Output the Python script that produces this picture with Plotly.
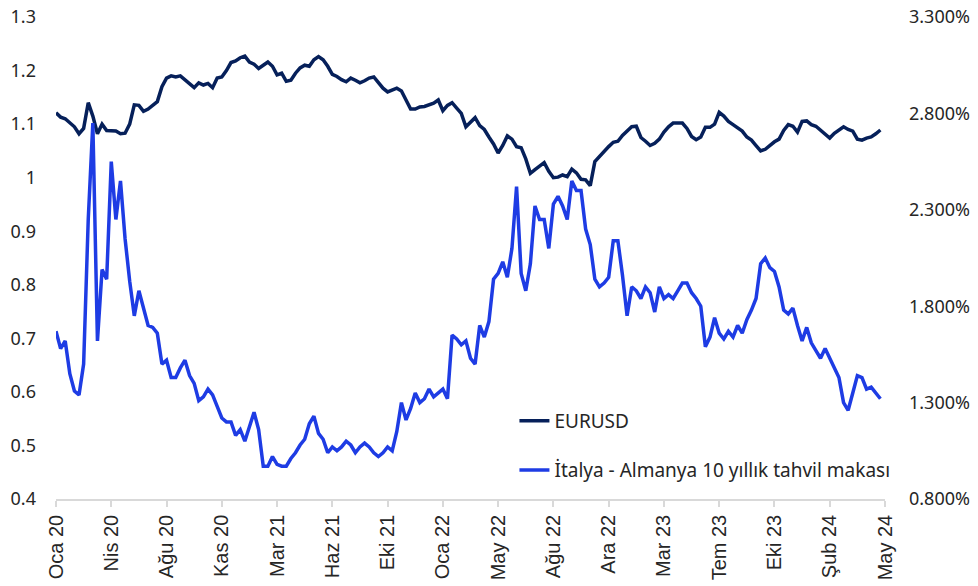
import plotly.graph_objects as go

eurusd = [
    1.121, 1.113, 1.110, 1.103, 1.095, 1.082, 1.092, 1.140, 1.115, 1.082, 1.100, 1.088,
    1.087, 1.087, 1.082, 1.083, 1.100, 1.136, 1.135, 1.124, 1.128, 1.135, 1.142, 1.170,
    1.186, 1.190, 1.188, 1.190, 1.183, 1.176, 1.168, 1.177, 1.173, 1.176, 1.168, 1.186,
    1.188, 1.200, 1.215, 1.218, 1.224, 1.227, 1.216, 1.212, 1.204, 1.210, 1.216, 1.208,
    1.192, 1.195, 1.180, 1.182, 1.195, 1.205, 1.210, 1.208, 1.220, 1.226, 1.220, 1.208,
    1.193, 1.189, 1.183, 1.179, 1.186, 1.182, 1.177, 1.181, 1.186, 1.188, 1.178, 1.167,
    1.160, 1.163, 1.167, 1.162, 1.145, 1.128, 1.128, 1.132, 1.133, 1.136, 1.139, 1.145,
    1.125, 1.135, 1.140, 1.130, 1.120, 1.095, 1.104, 1.112, 1.097, 1.090, 1.076, 1.063,
    1.046, 1.060, 1.078, 1.072, 1.058, 1.056, 1.035, 1.008, 1.015, 1.022, 1.028, 1.012,
    1.000, 1.001, 1.005, 1.002, 1.016, 1.009, 0.997, 0.996, 0.985, 1.030, 1.040, 1.050,
    1.058, 1.066, 1.068, 1.079, 1.088, 1.095, 1.096, 1.075, 1.068, 1.060, 1.064, 1.072,
    1.085, 1.095, 1.102, 1.102, 1.102, 1.092, 1.077, 1.071, 1.076, 1.094, 1.094, 1.100,
    1.122, 1.115, 1.105, 1.099, 1.093, 1.087, 1.076, 1.070, 1.060, 1.050, 1.053, 1.061,
    1.067, 1.072, 1.088, 1.099, 1.096, 1.085, 1.105, 1.106, 1.099, 1.096, 1.089, 1.083,
    1.074, 1.083, 1.089, 1.095, 1.090, 1.087, 1.072, 1.070, 1.074, 1.076, 1.082, 1.089,
]

spread = [
    1.67, 1.58, 1.62, 1.45, 1.36, 1.34, 1.50, 2.25, 2.75, 1.62, 1.99, 1.94,
    2.55, 2.25, 2.45, 2.15, 1.93, 1.75, 1.88, 1.79, 1.70, 1.69, 1.66, 1.50,
    1.52, 1.43, 1.43, 1.48, 1.52, 1.44, 1.40, 1.31, 1.33, 1.37, 1.34, 1.28,
    1.22, 1.20, 1.20, 1.13, 1.16, 1.10, 1.17, 1.25, 1.16, 0.97, 0.97, 1.02,
    0.98, 0.97, 0.97, 1.01, 1.04, 1.08, 1.11, 1.19, 1.23, 1.14, 1.11, 1.04,
    1.07, 1.05, 1.07, 1.10, 1.08, 1.04, 1.07, 1.09, 1.07, 1.04, 1.02, 1.04,
    1.07, 1.05, 1.15, 1.30, 1.21, 1.27, 1.35, 1.30, 1.32, 1.37, 1.33, 1.35,
    1.37, 1.32, 1.65, 1.63, 1.60, 1.62, 1.53, 1.50, 1.70, 1.64, 1.72, 1.94,
    1.97, 2.03, 1.95, 2.10, 2.42, 1.97, 1.88, 2.02, 2.32, 2.25, 2.25, 2.10,
    2.33, 2.37, 2.32, 2.25, 2.45, 2.40, 2.40, 2.20, 2.12, 1.94, 1.90, 1.92,
    1.95, 2.14, 2.14, 1.96, 1.75, 1.90, 1.88, 1.84, 1.90, 1.87, 1.77, 1.90,
    1.84, 1.86, 1.84, 1.88, 1.92, 1.92, 1.87, 1.84, 1.80, 1.59, 1.64, 1.74,
    1.66, 1.63, 1.67, 1.64, 1.70, 1.66, 1.73, 1.78, 1.84, 2.02, 2.05, 2.00,
    1.98, 1.90, 1.78, 1.76, 1.79, 1.70, 1.62, 1.69, 1.61, 1.57, 1.53, 1.58,
    1.53, 1.49, 1.43, 1.30, 1.26, 1.35, 1.44, 1.43, 1.37, 1.38, 1.35, 1.32,
]

x_labels = ["Oca 20", "Nis 20", "Ağu 20", "Kas 20", "Mar 21", "Haz 21", "Eki 21",
            "Oca 22", "May 22", "Ağu 22", "Ara 22", "Mar 23", "Tem 23", "Eki 23",
            "Şub 24", "May 24"]
x_tick_pos = [0, 12, 24, 36, 48, 60, 72, 84, 96, 108, 120, 132, 144, 156, 168, 180]

left_vals = [0.4, 0.5, 0.6, 0.7, 0.8, 0.9, 1.0, 1.1, 1.2, 1.3]
left_text = ["0.4", "0.5", "0.6", "0.7", "0.8", "0.9", "1", "1.1", "1.2", "1.3"]
right_vals = [0.8, 1.3, 1.8, 2.3, 2.8, 3.3]
right_text = ["0.800%", "1.300%", "1.800%", "2.300%", "2.800%", "3.300%"]

names = ["EURUSD", "İtalya - Almanya 10 yıllık tahvil makası"]

idx = list(range(len(eurusd)))

fig = go.Figure()
fig.add_trace(go.Scatter(x=idx, y=eurusd, mode="lines", name=names[0],
                         line=dict(color="#06205A", width=3.5), yaxis="y",
                         legend="legend"))
fig.add_trace(go.Scatter(x=idx, y=spread, mode="lines", name=names[1],
                         line=dict(color="#1E3CE4", width=3.5), yaxis="y2",
                         legend="legend2"))

label_font = dict(family="Noto Sans, Open Sans, sans-serif", size=18, color="#262626")
legend_font = dict(family="Noto Sans, Open Sans, sans-serif", size=19, color="#262626")

fig.update_layout(
    width=978, height=586,
    margin=dict(l=56, r=93, t=17, b=87),
    paper_bgcolor="white", plot_bgcolor="white",
    xaxis=dict(range=[0, 180], tickmode="array", tickvals=x_tick_pos, ticktext=x_labels,
               tickangle=-90, showgrid=False, zeroline=False, automargin=False,
               showline=True, linecolor="#D9D9D9", linewidth=1.5,
               ticks="outside", ticklen=6, tickcolor="#D9D9D9", tickwidth=1.5,
               ticklabeloverflow="allow",
               tickfont=dict(family="Liberation Sans, Arial, sans-serif", size=20,
                             color="#262626")),
    yaxis=dict(range=[0.4, 1.3], tickmode="array", tickvals=left_vals, ticktext=left_text,
               showgrid=False, zeroline=False, showline=False, ticks="", automargin=False,
               ticklabeloverflow="allow",
               ticklabelstandoff=19, tickfont=label_font),
    yaxis2=dict(range=[0.8, 3.3], tickmode="array", tickvals=right_vals, ticktext=right_text,
                overlaying="y", side="right", showgrid=False, zeroline=False,
                showline=False, ticks="", automargin=False,
                ticklabeloverflow="allow",
                ticklabelstandoff=23, tickfont=label_font),
    legend=dict(x=0.553, y=0.162, xanchor="left", yanchor="middle",
                bgcolor="rgba(0,0,0,0)", font=legend_font),
    legend2=dict(x=0.553, y=0.060, xanchor="left", yanchor="middle",
                 bgcolor="rgba(0,0,0,0)", font=legend_font),
    showlegend=True,
)

# remove the browser's default 8px page margin so the figure fills the window exactly
fig.write_html("out.html", config={"displayModeBar": False},
               post_script="document.body.style.margin='0px';")
